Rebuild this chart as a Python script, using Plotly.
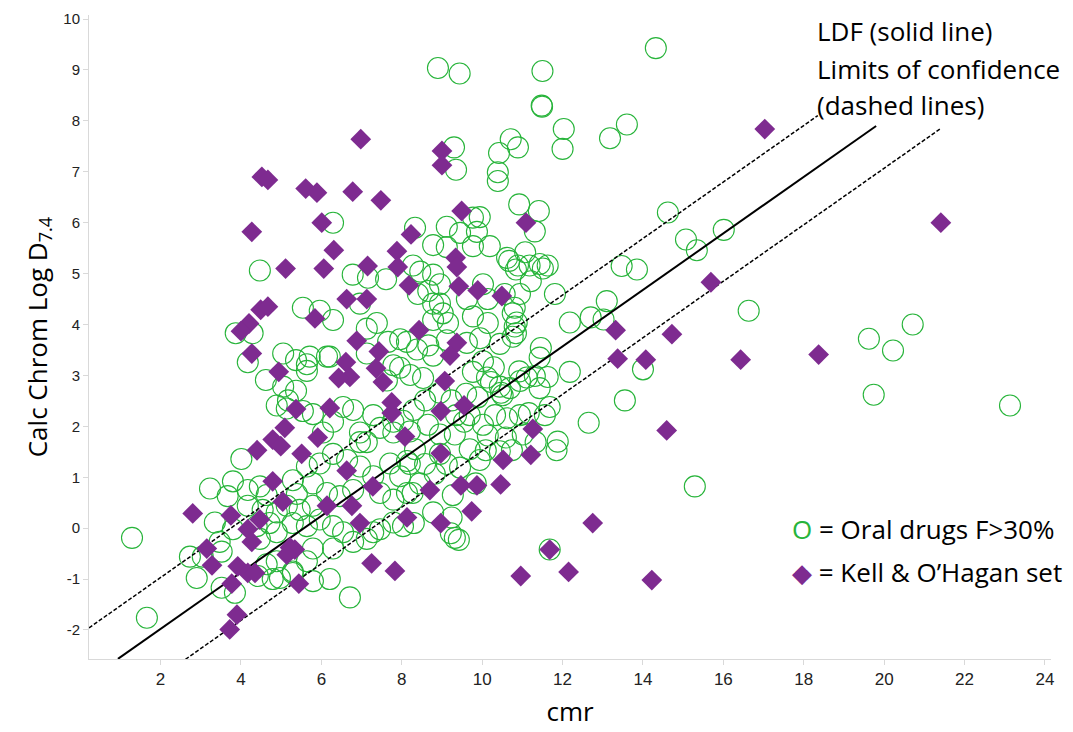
import plotly.graph_objects as go

# ---------------- data ----------------
# Oral drugs F>30% (green open circles): cmr, Calc Chrom Log D7.4
oral_cmr = [
    # left / lower cloud
    1.29, 1.66, 4.01, 3.23, 3.80, 3.67, 4.17, 4.47, 4.64, 5.29, 5.39, 5.79, 5.64, 5.96, 6.29, 6.64, 6.96, 7.29, 7.71, 7.96,
    6.14, 6.46, 6.79, 7.46, 7.79, 4.17, 4.54, 4.89, 5.14, 5.46, 5.79, 5.29, 5.64, 5.96, 6.29, 6.54, 7.46, 7.79, 3.35, 3.80,
    4.39, 4.71, 4.89, 4.47, 3.47, 2.73, 3.05, 3.52, 2.90, 3.52, 3.85, 4.64, 4.89, 5.29, 5.64, 6.29, 6.79, 7.13, 7.29, 8.03,
    5.79, 6.21, 6.71, 5.79, 4.97, 5.29, 4.79, 4.42, 7.46, 7.79, 7.29, 6.79, 6.54, 6.29, 5.79, 5.54, 5.14, 4.89, 6.96, 7.79,
    8.03, 7.13, 6.96, 6.04, 8.13, 8.13,
    # upper middle cloud
    11.48, 9.30, 10.71, 10.89, 10.42, 9.35, 10.39, 10.39, 10.92, 11.41, 11.31, 6.29, 8.33, 9.77, 9.12, 9.87, 9.45, 8.78, 9.12, 9.77,
    10.62, 10.89, 11.43, 11.63, 11.18, 6.78, 7.16, 7.61, 8.28, 8.46, 8.78, 8.95, 8.66, 8.40, 8.78, 9.02, 8.78, 9.15, 8.95, 9.62,
    10.02, 10.14, 10.76, 10.81, 10.76, 10.14, 9.77, 6.29, 5.96, 6.96, 7.38, 7.13, 7.66, 8.13, 7.96, 8.38, 8.66, 8.78, 9.12, 9.62,
    9.95, 10.44, 5.71, 6.14, 5.64, 6.21, 7.13, 7.79, 8.21, 8.53, 7.96, 10.12, 10.44, 11.11, 11.43, 11.43, 10.69, 7.63, 5.64,
    # top and right scatter
    8.90, 9.44, 14.32, 11.50, 11.49, 13.18, 13.60, 12.03, 12.00, 9.94, 14.62, 15.07, 15.34, 16.01, 13.47, 13.85, 11.51, 11.21,
    11.81, 16.63, 13.10, 12.70, 12.18, 13.02, 20.71, 19.62, 20.22, 19.74, 23.13, 13.55, 14.00, 11.63, 12.18, 11.46, 10.84, 10.86,
    10.81, 10.94, 12.65, 11.68, 11.88, 11.85, 15.29, 11.68, 11.33, 10.74, 10.14, 9.94, 9.45, 9.84, 9.27, 9.24, 9.22, 9.32, 9.42,
    8.78, 8.30, 10.94, 10.62, 10.47, 10.22, 10.29, 10.02, 9.77, 9.89, 9.55, 10.02, 11.16, 10.59, 10.09, 10.51, 10.94, 11.31,
    10.92, 10.19, 10.67, 10.84, 11.07, 10.56,
    # left upper
    4.47, 3.87, 4.29, 4.17, 4.62, 5.05, 5.37, 5.37, 5.17, 5.05, 5.54,
    # middle lower
    8.33, 8.58, 8.20, 8.45, 8.95, 8.65, 8.95, 8.30, 8.58, 8.95, 9.32, 9.69, 8.27, 9.35, 9.24, 9.60, 10.32, 9.69, 10.44, 11.01,
    11.56, 8.20, 8.82, 9.12,
]
oral_logd = [
    -0.19, -1.76, 1.36, 0.78, 0.92, 0.63, 0.75, 0.82, 0.65, 0.94, 0.67, 0.88, 1.21, 1.27, 1.46, 1.34, 1.21, 1.02, 1.27, 1.02,
    0.69, 0.63, 0.75, 0.69, 0.56, 0.44, 0.36, 0.31, 0.44, 0.36, 0.44, 0.10, 0.04, 0.17, 0.04, -0.08, -0.02, 0.11, 0.11, -0.02,
    0.04, 0.10, -0.08, -0.21, -0.27, -0.56, -0.56, -0.46, -0.98, -1.17, -1.27, -0.71, -0.65, -0.88, -0.65, -0.40, -0.27, -0.21, -0.08, 0.04,
    -1.04, -1.00, -1.36, -0.40, -0.98, -0.85, -1.00, -0.94, 1.97, 2.09, 2.22, 2.32, 2.38, 2.09, 2.24, 2.30, 2.35, 2.41, 1.88, 1.88,
    2.11, 1.69, 1.69, 1.88, 1.32, 0.69,
    8.30, 7.48, 7.64, 7.48, 7.37, 7.04, 6.99, 6.82, 6.36, 6.23, 5.83, 6.00, 5.90, 6.10, 5.92, 5.82, 5.80, 5.56, 5.52, 5.54,
    5.31, 5.16, 5.19, 5.16, 5.16, 4.98, 4.92, 4.89, 5.16, 5.04, 4.98, 4.79, 4.66, 4.60, 4.41, 4.22, 4.09, 4.03, 4.41, 4.50,
    4.79, 4.50, 4.22, 3.96, 3.76, 4.03, 4.16, 4.09, 4.27, 4.41, 4.03, 3.92, 3.66, 3.66, 3.71, 3.51, 3.59, 3.39, 3.69, 3.64,
    3.73, 3.62, 3.37, 3.37, 3.09, 3.37, 3.43, 3.20, 3.01, 2.95, 3.15, 2.96, 2.78, 2.96, 3.35, 2.75, 2.75, 2.90, 3.22,
    9.04, 8.93, 9.43, 8.98, 8.28, 7.66, 7.93, 7.84, 7.45, 6.11, 6.20, 5.67, 5.46, 5.86, 5.15, 5.08, 5.10, 4.85,
    4.60, 4.27, 4.46, 4.14, 4.04, 4.10, 4.00, 3.72, 3.49, 2.62, 2.41, 2.51, 3.12, 2.97, 3.07, 3.54, 3.83, 4.04,
    4.33, 4.60, 2.07, 2.38, 1.70, 1.53, 0.82, -0.42, 1.69, 1.53, 1.82, 1.34, 1.19, 0.88, 0.65, 0.21, -0.10, -0.19, -0.23,
    0.31, 0.10, 2.22, 2.16, 2.66, 2.87, 3.16, 3.28, 3.07, 2.57, 2.09, 2.03, 2.26, 1.78, 1.53, 2.61, 2.89, 2.99,
    3.08, 5.54, 5.25, 5.08, 5.42, 4.60,
    5.06, 3.83, 3.83, 3.26, 2.91, 3.43, 3.30, 2.70, 2.51, 2.78, 4.33,
    1.55, 1.26, 1.26, 0.88, 1.46, 2.03, 1.84, 2.32, 2.51, 2.66, 1.84, 1.55, 0.69, 2.22, 2.51, 2.64, 2.22, 2.22, 1.51, 1.84,
    2.22, 1.90, 1.07, 1.26,
]

# Kell & O'Hagan set (purple diamonds)
kell_cmr = [
    6.98, 9.00, 9.00, 5.61, 5.89, 6.78, 7.48, 9.49, 6.01, 11.09, 6.31, 8.23, 7.88, 9.34, 9.37, 7.90, 6.06, 7.15, 8.18, 9.42,
    9.89, 10.49, 6.63, 7.13, 5.84, 8.43, 6.88, 7.43, 9.37, 9.20, 6.61, 7.36, 6.71, 6.43, 7.53, 9.07,
    5.37, 6.21, 7.75, 7.75, 5.09, 4.79, 4.99, 5.91, 4.40, 5.51, 8.08, 6.63, 4.79, 5.04, 7.28, 6.14, 6.76, 2.80, 3.75, 4.47,
    4.17, 6.96, 8.13, 4.27, 3.15, 5.22, 5.34, 5.14, 3.28, 3.92, 4.17, 4.35, 7.25, 7.83, 3.77, 5.44, 3.90, 3.72,
    4.27, 4.52, 4.67, 4.20, 4.00, 4.49, 4.67, 4.27, 4.94, 5.11, 9.55, 8.97, 9.47, 9.87, 9.74, 8.97, 10.52, 10.46, 11.26, 11.21,
    10.96, 11.68, 12.15, 12.75, 14.22, 13.32, 13.37, 14.07, 14.72, 14.59, 15.69, 16.43, 17.03, 18.37, 21.41, 8.97, 8.70,
]
kell_logd = [
    7.64, 7.41, 7.13, 6.67, 6.59, 6.61, 6.44, 6.23, 6.00, 6.00, 5.46, 5.77, 5.44, 5.31, 5.13, 5.13, 5.10, 5.15, 4.77, 4.75,
    4.67, 4.56, 4.50, 4.50, 4.12, 3.89, 3.68, 3.47, 3.64, 3.39, 3.26, 3.14, 2.97, 2.95, 2.87, 2.89,
    2.34, 2.36, 2.47, 2.26, 1.97, 1.74, 1.61, 1.78, 1.53, 1.46, 1.80, 1.13, 0.92, 0.52, 0.82, 0.44, 0.44, 0.29, 0.25, 0.17,
    -0.02, 0.10, 0.21, -0.27, -0.40, -0.38, -0.42, -0.52, -0.73, -0.75, -0.88, -0.88, -0.69, -0.84, -1.09, -1.09, -1.70, -1.99,
    5.82, 6.90, 6.84, 4.02, 3.87, 4.29, 4.35, 3.43, 3.07, 5.10, 2.41, 2.30, 0.84, 0.84, 0.33, 0.10, 1.34, 0.86, 1.95, 1.44,
    -0.94, -0.42, -0.86, 0.10, -1.02, 3.89, 3.33, 3.31, 3.81, 1.92, 4.83, 3.31, 7.84, 3.41, 6.00, 1.47, 0.75,
]

# Discriminant line (LDF) and confidence limits: slope, intercept, x-extent
line_names = ["LDF", "upper limit", "lower limit"]
line_slope = [0.555, 0.555, 0.555]
line_intercept = [-3.09, -2.08, -4.03]
line_x_start = [0.94, 0.22, 2.62]
line_x_end = [19.80, 18.35, 21.40]
line_dash = ["solid", "dash", "dash"]

x_ticks = [2, 4, 6, 8, 10, 12, 14, 16, 18, 20, 22, 24]
y_ticks = [-2, -1, 0, 1, 2, 3, 4, 5, 6, 7, 8, 9, 10]

GREEN = "#27b43a"
PURPLE = "#7e2b90"

fig = go.Figure()

fig.add_trace(go.Scatter(
    x=oral_cmr, y=oral_logd, mode="markers", name="Oral drugs F>30%",
    marker=dict(symbol="circle-open", size=21, color=GREEN, line=dict(width=1.1, color=GREEN)),
    hoverinfo="x+y",
))

for i in range(3):
    xs = [line_x_start[i], line_x_end[i]]
    ys = [line_slope[i] * v + line_intercept[i] for v in xs]
    fig.add_trace(go.Scatter(
        x=xs, y=ys, mode="lines", name=line_names[i],
        line=dict(color="black", width=2 if line_dash[i] == "solid" else 1.5,
                  dash="solid" if line_dash[i] == "solid" else "4px,2px"),
    ))

fig.add_trace(go.Scatter(
    x=kell_cmr, y=kell_logd, mode="markers", name="Kell & O'Hagan set",
    marker=dict(symbol="diamond", size=16, color=PURPLE, line=dict(width=0)),
))

# plot area in pixels
W, H = 1073, 732
L, R, T, B = 89, 22, 10, 62

def px(xp):
    return (xp - L) / (W - L - R)

def py(yp):
    return (H - B - yp) / (H - T - B)

TXT = "Open Sans, Noto Sans, sans-serif"
ann = []
for txt, yy in [("LDF (solid line)", 26), ("Limits of confidence", 65), ("(dashed lines)", 102)]:
    ann.append(dict(text=txt, x=px(815), y=py(yy), xref="paper", yref="paper",
                    xanchor="left", yanchor="middle", showarrow=False,
                    font=dict(family=TXT, size=26, color="black")))
ann.append(dict(text=f"<span style='color:{GREEN}'>O</span> = Oral drugs F>30%",
                x=px(790), y=py(537), xref="paper", yref="paper", xanchor="left", yanchor="middle",
                showarrow=False, font=dict(family=TXT, size=26, color="black")))
ann.append(dict(text=f"<span style='color:{PURPLE}'>◆</span> = Kell &amp; O’Hagan set",
                x=px(790), y=py(581), xref="paper", yref="paper", xanchor="left", yanchor="middle",
                showarrow=False, font=dict(family=TXT, size=26, color="black")))

fig.update_layout(
    width=W, height=H,
    margin=dict(l=L, r=R, t=T, b=B),
    paper_bgcolor="white", plot_bgcolor="white",
    showlegend=False,
    annotations=ann,
    xaxis=dict(
        range=[0.22, 24.15], tickvals=x_ticks, ticktext=[str(v) for v in x_ticks],
        showline=True, linecolor="#d9d9d9", linewidth=1, ticks="outside", ticklen=5,
        tickcolor="#d9d9d9", showgrid=False, zeroline=False,
        tickfont=dict(family="Liberation Sans Narrow, Arial Narrow, Liberation Sans, sans-serif", size=17, color="#222"),
        title=dict(text="cmr", font=dict(family=TXT, size=26, color="black"), standoff=14),
    ),
    yaxis=dict(
        range=[-2.57, 10.08], tickvals=y_ticks, ticktext=[str(v) for v in y_ticks],
        showline=True, linecolor="#d9d9d9", linewidth=1, ticks="outside", ticklen=5,
        tickcolor="#d9d9d9", showgrid=False, zeroline=False,
        tickfont=dict(family="Liberation Sans, Arial, sans-serif", size=15, color="#222"),
        title=dict(text="Calc Chrom Log D<sub>7.4</sub>", font=dict(family=TXT, size=26, color="black"), standoff=8),
    ),
)

fig.write_html("out.html")
